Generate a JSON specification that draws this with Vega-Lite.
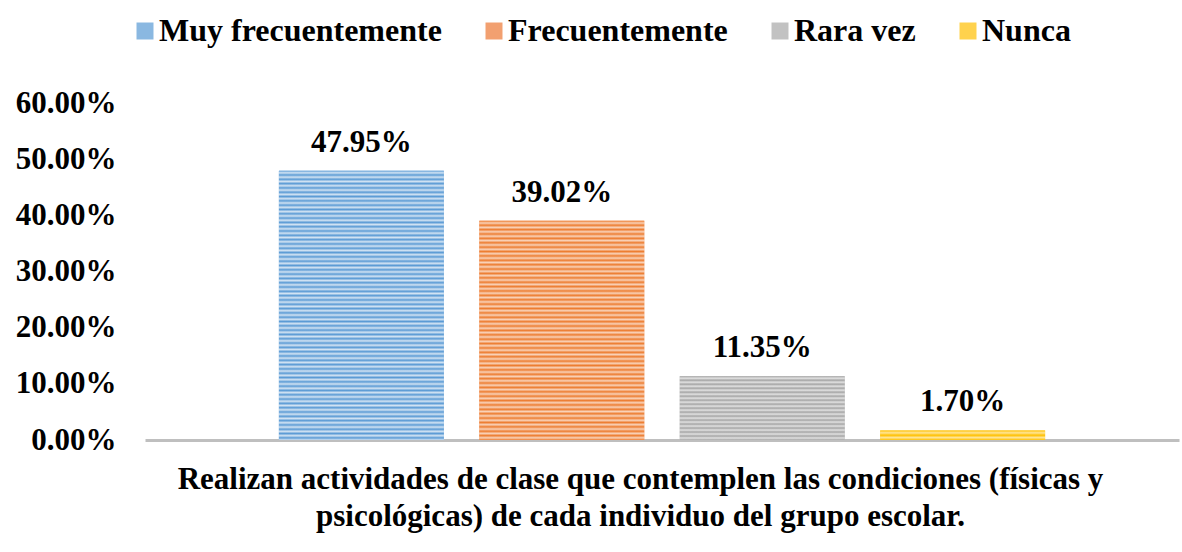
{
  "$schema": "https://vega.github.io/schema/vega-lite/v6.json",
  "width": 1034,
  "height": 337,
  "autosize": {"type": "none"},
  "padding": {"left": 145, "top": 103, "right": 3, "bottom": 112},
  "background": "white",
  "config": {
    "view": {"stroke": null},
    "font": "'Liberation Serif', 'Times New Roman', serif",
    "text": {"font": "'Liberation Serif', 'Times New Roman', serif"}
  },
  "data": {
    "values": [
      {"s": "Muy frecuentemente", "v": 0.4795},
      {"s": "Frecuentemente", "v": 0.3902},
      {"s": "Rara vez", "v": 0.1135},
      {"s": "Nunca", "v": 0.017}
    ]
  },
  "encoding": {
    "x": {
      "field": "s",
      "type": "nominal",
      "sort": null,
      "scale": {"paddingInner": 0.177, "paddingOuter": 0.668},
      "axis": {
        "labels": false,
        "ticks": false,
        "domainColor": "#BFBFBF",
        "domainWidth": 3,
        "title": ["Realizan actividades de clase que contemplen las condiciones (físicas y", "psicológicas) de cada individuo del grupo escolar."],
        "titleFont": "'Liberation Serif', 'Times New Roman', serif",
        "titleFontWeight": "bold",
        "titleFontSize": 31,
        "titleColor": "#000000",
        "titleLineHeight": 37,
        "titlePadding": 24,
        "titleX": 495,
        "titleAlign": "center"
      }
    },
    "y": {
      "field": "v",
      "type": "quantitative",
      "scale": {"domain": [0, 0.6], "nice": false, "zero": true},
      "axis": {
        "values": [0, 0.1, 0.2, 0.3, 0.4, 0.5, 0.6],
        "format": ".2%",
        "grid": false,
        "ticks": false,
        "domain": false,
        "title": null,
        "labelFont": "'Liberation Serif', 'Times New Roman', serif",
        "labelFontWeight": "bold",
        "labelFontSize": 31,
        "labelColor": "#000000",
        "labelPadding": 29
      }
    }
  },
  "layer": [
    {
      "mark": {"type": "bar"},
      "encoding": {
        "fill": {
          "field": "s",
          "type": "nominal",
          "sort": null,
          "scale": {
            "domain": ["Muy frecuentemente", "Frecuentemente", "Rara vez", "Nunca"],
            "range": ["#8AB8E1", "#F2A070", "#C2C2C2", "#FFD24D"]
          },
          "legend": {
            "orient": "none",
            "direction": "horizontal",
            "legendX": -16,
            "legendY": -88,
            "title": null,
            "symbolType": "square",
            "symbolSize": 289,
            "symbolStrokeWidth": 0,
            "labelFont": "'Liberation Serif', 'Times New Roman', serif",
            "labelFontWeight": "bold",
            "labelFontSize": 32,
            "labelColor": "#000000",
            "labelOffset": -2,
            "columnPadding": 36,
            "labelLimit": 500
          }
        }
      }
    },
    {
      "mark": {"type": "bar"},
      "encoding": {
        "fill": {
          "condition": [
            {
              "test": "datum.s === 'Muy frecuentemente'",
              "value": {
                "gradient": "linear", "x1": 0, "y1": 0, "x2": 0, "y2": 1,
                "stops": [
                  {"offset": 0, "color": "#5B9BD5"}, {"offset": 0.008, "color": "#D2E3F3"}, {"offset": 0.016, "color": "#5B9BD5"}, {"offset": 0.024, "color": "#D2E3F3"}, {"offset": 0.032, "color": "#5B9BD5"}, {"offset": 0.04, "color": "#D2E3F3"}, {"offset": 0.048, "color": "#5B9BD5"}, {"offset": 0.056, "color": "#D2E3F3"}, {"offset": 0.064, "color": "#5B9BD5"}, {"offset": 0.072, "color": "#D2E3F3"},
                  {"offset": 0.08, "color": "#5B9BD5"}, {"offset": 0.088, "color": "#D2E3F3"}, {"offset": 0.096, "color": "#5B9BD5"}, {"offset": 0.104, "color": "#D2E3F3"}, {"offset": 0.112, "color": "#5B9BD5"}, {"offset": 0.12, "color": "#D2E3F3"}, {"offset": 0.128, "color": "#5B9BD5"}, {"offset": 0.136, "color": "#D2E3F3"}, {"offset": 0.144, "color": "#5B9BD5"}, {"offset": 0.152, "color": "#D2E3F3"},
                  {"offset": 0.16, "color": "#5B9BD5"}, {"offset": 0.168, "color": "#D2E3F3"}, {"offset": 0.176, "color": "#5B9BD5"}, {"offset": 0.184, "color": "#D2E3F3"}, {"offset": 0.192, "color": "#5B9BD5"}, {"offset": 0.2, "color": "#D2E3F3"}, {"offset": 0.208, "color": "#5B9BD5"}, {"offset": 0.216, "color": "#D2E3F3"}, {"offset": 0.224, "color": "#5B9BD5"}, {"offset": 0.232, "color": "#D2E3F3"},
                  {"offset": 0.24, "color": "#5B9BD5"}, {"offset": 0.248, "color": "#D2E3F3"}, {"offset": 0.256, "color": "#5B9BD5"}, {"offset": 0.264, "color": "#D2E3F3"}, {"offset": 0.272, "color": "#5B9BD5"}, {"offset": 0.28, "color": "#D2E3F3"}, {"offset": 0.288, "color": "#5B9BD5"}, {"offset": 0.296, "color": "#D2E3F3"}, {"offset": 0.304, "color": "#5B9BD5"}, {"offset": 0.312, "color": "#D2E3F3"},
                  {"offset": 0.32, "color": "#5B9BD5"}, {"offset": 0.328, "color": "#D2E3F3"}, {"offset": 0.336, "color": "#5B9BD5"}, {"offset": 0.344, "color": "#D2E3F3"}, {"offset": 0.352, "color": "#5B9BD5"}, {"offset": 0.36, "color": "#D2E3F3"}, {"offset": 0.368, "color": "#5B9BD5"}, {"offset": 0.376, "color": "#D2E3F3"}, {"offset": 0.384, "color": "#5B9BD5"}, {"offset": 0.392, "color": "#D2E3F3"},
                  {"offset": 0.4, "color": "#5B9BD5"}, {"offset": 0.408, "color": "#D2E3F3"}, {"offset": 0.416, "color": "#5B9BD5"}, {"offset": 0.424, "color": "#D2E3F3"}, {"offset": 0.432, "color": "#5B9BD5"}, {"offset": 0.44, "color": "#D2E3F3"}, {"offset": 0.448, "color": "#5B9BD5"}, {"offset": 0.456, "color": "#D2E3F3"}, {"offset": 0.464, "color": "#5B9BD5"}, {"offset": 0.472, "color": "#D2E3F3"},
                  {"offset": 0.48, "color": "#5B9BD5"}, {"offset": 0.488, "color": "#D2E3F3"}, {"offset": 0.496, "color": "#5B9BD5"}, {"offset": 0.504, "color": "#D2E3F3"}, {"offset": 0.512, "color": "#5B9BD5"}, {"offset": 0.52, "color": "#D2E3F3"}, {"offset": 0.528, "color": "#5B9BD5"}, {"offset": 0.536, "color": "#D2E3F3"}, {"offset": 0.544, "color": "#5B9BD5"}, {"offset": 0.552, "color": "#D2E3F3"},
                  {"offset": 0.56, "color": "#5B9BD5"}, {"offset": 0.568, "color": "#D2E3F3"}, {"offset": 0.576, "color": "#5B9BD5"}, {"offset": 0.584, "color": "#D2E3F3"}, {"offset": 0.592, "color": "#5B9BD5"}, {"offset": 0.6, "color": "#D2E3F3"}, {"offset": 0.608, "color": "#5B9BD5"}, {"offset": 0.616, "color": "#D2E3F3"}, {"offset": 0.624, "color": "#5B9BD5"}, {"offset": 0.632, "color": "#D2E3F3"},
                  {"offset": 0.64, "color": "#5B9BD5"}, {"offset": 0.648, "color": "#D2E3F3"}, {"offset": 0.656, "color": "#5B9BD5"}, {"offset": 0.664, "color": "#D2E3F3"}, {"offset": 0.672, "color": "#5B9BD5"}, {"offset": 0.68, "color": "#D2E3F3"}, {"offset": 0.688, "color": "#5B9BD5"}, {"offset": 0.696, "color": "#D2E3F3"}, {"offset": 0.704, "color": "#5B9BD5"}, {"offset": 0.712, "color": "#D2E3F3"},
                  {"offset": 0.72, "color": "#5B9BD5"}, {"offset": 0.728, "color": "#D2E3F3"}, {"offset": 0.736, "color": "#5B9BD5"}, {"offset": 0.744, "color": "#D2E3F3"}, {"offset": 0.752, "color": "#5B9BD5"}, {"offset": 0.76, "color": "#D2E3F3"}, {"offset": 0.768, "color": "#5B9BD5"}, {"offset": 0.776, "color": "#D2E3F3"}, {"offset": 0.784, "color": "#5B9BD5"}, {"offset": 0.792, "color": "#D2E3F3"},
                  {"offset": 0.8, "color": "#5B9BD5"}, {"offset": 0.808, "color": "#D2E3F3"}, {"offset": 0.816, "color": "#5B9BD5"}, {"offset": 0.824, "color": "#D2E3F3"}, {"offset": 0.832, "color": "#5B9BD5"}, {"offset": 0.84, "color": "#D2E3F3"}, {"offset": 0.848, "color": "#5B9BD5"}, {"offset": 0.856, "color": "#D2E3F3"}, {"offset": 0.864, "color": "#5B9BD5"}, {"offset": 0.872, "color": "#D2E3F3"},
                  {"offset": 0.88, "color": "#5B9BD5"}, {"offset": 0.888, "color": "#D2E3F3"}, {"offset": 0.896, "color": "#5B9BD5"}, {"offset": 0.904, "color": "#D2E3F3"}, {"offset": 0.912, "color": "#5B9BD5"}, {"offset": 0.92, "color": "#D2E3F3"}, {"offset": 0.928, "color": "#5B9BD5"}, {"offset": 0.936, "color": "#D2E3F3"}, {"offset": 0.944, "color": "#5B9BD5"}, {"offset": 0.952, "color": "#D2E3F3"},
                  {"offset": 0.96, "color": "#5B9BD5"}, {"offset": 0.968, "color": "#D2E3F3"}, {"offset": 0.976, "color": "#5B9BD5"}, {"offset": 0.984, "color": "#D2E3F3"}, {"offset": 0.992, "color": "#5B9BD5"}, {"offset": 1, "color": "#D2E3F3"}
                ]
              }
            },
            {
              "test": "datum.s === 'Frecuentemente'",
              "value": {
                "gradient": "linear", "x1": 0, "y1": 0, "x2": 0, "y2": 1,
                "stops": [
                  {"offset": 0, "color": "#ED7D31"}, {"offset": 0.01, "color": "#F9D2B8"}, {"offset": 0.02, "color": "#ED7D31"}, {"offset": 0.03, "color": "#F9D2B8"}, {"offset": 0.04, "color": "#ED7D31"}, {"offset": 0.05, "color": "#F9D2B8"}, {"offset": 0.06, "color": "#ED7D31"}, {"offset": 0.07, "color": "#F9D2B8"}, {"offset": 0.08, "color": "#ED7D31"}, {"offset": 0.09, "color": "#F9D2B8"},
                  {"offset": 0.1, "color": "#ED7D31"}, {"offset": 0.11, "color": "#F9D2B8"}, {"offset": 0.12, "color": "#ED7D31"}, {"offset": 0.13, "color": "#F9D2B8"}, {"offset": 0.14, "color": "#ED7D31"}, {"offset": 0.15, "color": "#F9D2B8"}, {"offset": 0.16, "color": "#ED7D31"}, {"offset": 0.17, "color": "#F9D2B8"}, {"offset": 0.18, "color": "#ED7D31"}, {"offset": 0.19, "color": "#F9D2B8"},
                  {"offset": 0.2, "color": "#ED7D31"}, {"offset": 0.21, "color": "#F9D2B8"}, {"offset": 0.22, "color": "#ED7D31"}, {"offset": 0.23, "color": "#F9D2B8"}, {"offset": 0.24, "color": "#ED7D31"}, {"offset": 0.25, "color": "#F9D2B8"}, {"offset": 0.26, "color": "#ED7D31"}, {"offset": 0.27, "color": "#F9D2B8"}, {"offset": 0.28, "color": "#ED7D31"}, {"offset": 0.29, "color": "#F9D2B8"},
                  {"offset": 0.3, "color": "#ED7D31"}, {"offset": 0.31, "color": "#F9D2B8"}, {"offset": 0.32, "color": "#ED7D31"}, {"offset": 0.33, "color": "#F9D2B8"}, {"offset": 0.34, "color": "#ED7D31"}, {"offset": 0.35, "color": "#F9D2B8"}, {"offset": 0.36, "color": "#ED7D31"}, {"offset": 0.37, "color": "#F9D2B8"}, {"offset": 0.38, "color": "#ED7D31"}, {"offset": 0.39, "color": "#F9D2B8"},
                  {"offset": 0.4, "color": "#ED7D31"}, {"offset": 0.41, "color": "#F9D2B8"}, {"offset": 0.42, "color": "#ED7D31"}, {"offset": 0.43, "color": "#F9D2B8"}, {"offset": 0.44, "color": "#ED7D31"}, {"offset": 0.45, "color": "#F9D2B8"}, {"offset": 0.46, "color": "#ED7D31"}, {"offset": 0.47, "color": "#F9D2B8"}, {"offset": 0.48, "color": "#ED7D31"}, {"offset": 0.49, "color": "#F9D2B8"},
                  {"offset": 0.5, "color": "#ED7D31"}, {"offset": 0.51, "color": "#F9D2B8"}, {"offset": 0.52, "color": "#ED7D31"}, {"offset": 0.53, "color": "#F9D2B8"}, {"offset": 0.54, "color": "#ED7D31"}, {"offset": 0.55, "color": "#F9D2B8"}, {"offset": 0.56, "color": "#ED7D31"}, {"offset": 0.57, "color": "#F9D2B8"}, {"offset": 0.58, "color": "#ED7D31"}, {"offset": 0.59, "color": "#F9D2B8"},
                  {"offset": 0.6, "color": "#ED7D31"}, {"offset": 0.61, "color": "#F9D2B8"}, {"offset": 0.62, "color": "#ED7D31"}, {"offset": 0.63, "color": "#F9D2B8"}, {"offset": 0.64, "color": "#ED7D31"}, {"offset": 0.65, "color": "#F9D2B8"}, {"offset": 0.66, "color": "#ED7D31"}, {"offset": 0.67, "color": "#F9D2B8"}, {"offset": 0.68, "color": "#ED7D31"}, {"offset": 0.69, "color": "#F9D2B8"},
                  {"offset": 0.7, "color": "#ED7D31"}, {"offset": 0.71, "color": "#F9D2B8"}, {"offset": 0.72, "color": "#ED7D31"}, {"offset": 0.73, "color": "#F9D2B8"}, {"offset": 0.74, "color": "#ED7D31"}, {"offset": 0.75, "color": "#F9D2B8"}, {"offset": 0.76, "color": "#ED7D31"}, {"offset": 0.77, "color": "#F9D2B8"}, {"offset": 0.78, "color": "#ED7D31"}, {"offset": 0.79, "color": "#F9D2B8"},
                  {"offset": 0.8, "color": "#ED7D31"}, {"offset": 0.81, "color": "#F9D2B8"}, {"offset": 0.82, "color": "#ED7D31"}, {"offset": 0.83, "color": "#F9D2B8"}, {"offset": 0.84, "color": "#ED7D31"}, {"offset": 0.85, "color": "#F9D2B8"}, {"offset": 0.86, "color": "#ED7D31"}, {"offset": 0.87, "color": "#F9D2B8"}, {"offset": 0.88, "color": "#ED7D31"}, {"offset": 0.89, "color": "#F9D2B8"},
                  {"offset": 0.9, "color": "#ED7D31"}, {"offset": 0.91, "color": "#F9D2B8"}, {"offset": 0.92, "color": "#ED7D31"}, {"offset": 0.93, "color": "#F9D2B8"}, {"offset": 0.94, "color": "#ED7D31"}, {"offset": 0.95, "color": "#F9D2B8"}, {"offset": 0.96, "color": "#ED7D31"}, {"offset": 0.97, "color": "#F9D2B8"}, {"offset": 0.98, "color": "#ED7D31"}, {"offset": 0.99, "color": "#F9D2B8"},
                  {"offset": 1, "color": "#ED7D31"}
                ]
              }
            },
            {
              "test": "datum.s === 'Rara vez'",
              "value": {
                "gradient": "linear", "x1": 0, "y1": 0, "x2": 0, "y2": 1,
                "stops": [
                  {"offset": 0, "color": "#A5A5A5"}, {"offset": 0.03125, "color": "#E2E2E2"}, {"offset": 0.0625, "color": "#A5A5A5"}, {"offset": 0.09375, "color": "#E2E2E2"}, {"offset": 0.125, "color": "#A5A5A5"}, {"offset": 0.15625, "color": "#E2E2E2"}, {"offset": 0.1875, "color": "#A5A5A5"}, {"offset": 0.21875, "color": "#E2E2E2"},
                  {"offset": 0.25, "color": "#A5A5A5"}, {"offset": 0.28125, "color": "#E2E2E2"}, {"offset": 0.3125, "color": "#A5A5A5"}, {"offset": 0.34375, "color": "#E2E2E2"}, {"offset": 0.375, "color": "#A5A5A5"}, {"offset": 0.40625, "color": "#E2E2E2"}, {"offset": 0.4375, "color": "#A5A5A5"}, {"offset": 0.46875, "color": "#E2E2E2"},
                  {"offset": 0.5, "color": "#A5A5A5"}, {"offset": 0.53125, "color": "#E2E2E2"}, {"offset": 0.5625, "color": "#A5A5A5"}, {"offset": 0.59375, "color": "#E2E2E2"}, {"offset": 0.625, "color": "#A5A5A5"}, {"offset": 0.65625, "color": "#E2E2E2"}, {"offset": 0.6875, "color": "#A5A5A5"}, {"offset": 0.71875, "color": "#E2E2E2"},
                  {"offset": 0.75, "color": "#A5A5A5"}, {"offset": 0.78125, "color": "#E2E2E2"}, {"offset": 0.8125, "color": "#A5A5A5"}, {"offset": 0.84375, "color": "#E2E2E2"}, {"offset": 0.875, "color": "#A5A5A5"}, {"offset": 0.90625, "color": "#E2E2E2"}, {"offset": 0.9375, "color": "#A5A5A5"}, {"offset": 0.96875, "color": "#E2E2E2"},
                  {"offset": 1, "color": "#A5A5A5"}
                ]
              }
            }
          ],
          "value": {
            "gradient": "linear", "x1": 0, "y1": 0, "x2": 0, "y2": 1,
            "stops": [
              {"offset": 0, "color": "#FFC000"}, {"offset": 0.25, "color": "#FFE699"}, {"offset": 0.5, "color": "#FFC000"}, {"offset": 0.75, "color": "#FFE699"}, {"offset": 1, "color": "#FFC000"}
            ]
          }
        }
      }
    },
    {
      "mark": {
        "type": "text",
        "font": "'Liberation Serif', 'Times New Roman', serif",
        "fontWeight": "bold",
        "fontSize": 31,
        "color": "#000000",
        "baseline": "alphabetic",
        "dy": -19
      },
      "encoding": {
        "text": {"field": "v", "type": "quantitative", "format": ".2%"}
      }
    }
  ]
}
